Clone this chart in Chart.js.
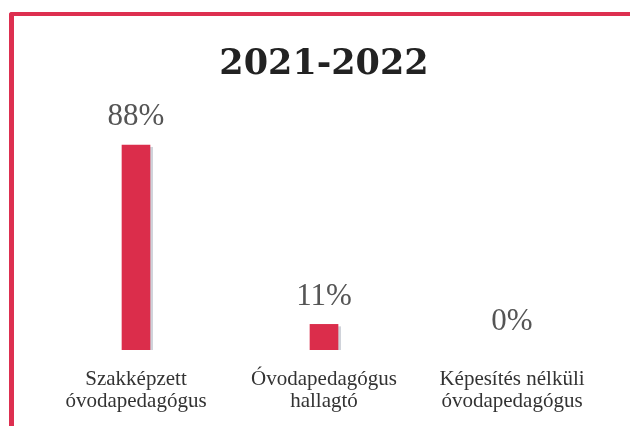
<!DOCTYPE html>
<html>
<head>
<meta charset="utf-8">
<script src="https://cdn.jsdelivr.net/npm/chart.js@4"></script>
<style>
  body { margin: 0; background: #fff; overflow: hidden; }
  #frame {
    position: absolute; left: 9px; top: 12px; width: 700px; height: 500px;
    border-top: 4px solid #dd2f50; border-left: 5px solid #dd2f50;
    border-top-left-radius: 3px;
  }
  #chart { position: absolute; left: 0; top: 0; }
</style>
</head>
<body>
<div id="frame"></div>
<canvas id="chart" width="630" height="426"></canvas>
<script>
// chart data
const categories = [
  ['Szakképzett', 'óvodapedagógus'],
  ['Óvodapedagógus', 'hallagtó'],
  ['Képesítés nélküli', 'óvodapedagógus']
];
const shares = [88, 11, 0];
const chartTitle = '2021-2022';

// soft grey shadow on the right side of the bars (skipped for empty bars)
const barShadow = {
  id: 'barShadow',
  beforeDatasetsDraw(chart) {
    const c = chart.ctx;
    const meta = chart.getDatasetMeta(0);
    c.save();
    c.fillStyle = 'rgba(120,130,150,0.35)';
    meta.data.forEach((bar, i) => {
      if (!shares[i]) return;
      const h = bar.base - bar.y;
      c.fillRect(bar.x - bar.width / 2 + 3, bar.y + 2, bar.width, h - 2);
    });
    c.restore();
  }
};

// value labels above the bars
const valueLabels = {
  id: 'valueLabels',
  afterDatasetsDraw(chart) {
    const c = chart.ctx;
    const meta = chart.getDatasetMeta(0);
    c.save();
    c.font = '31px "Liberation Serif"';
    c.fillStyle = '#555';
    c.textAlign = 'center';
    c.textBaseline = 'middle';
    meta.data.forEach((bar, i) => {
      c.fillText(shares[i] + '%', bar.x, bar.y - 28);
    });
    c.restore();
  }
};

new Chart(document.getElementById('chart'), {
  type: 'bar',
  data: {
    labels: categories,
    datasets: [{
      data: shares,
      // an empty bar should leave no trace at the baseline
      backgroundColor: ctx => ctx.raw ? '#db2d4b' : 'rgba(0,0,0,0)',
      barThickness: 28
    }]
  },
  options: {
    responsive: false,
    animation: false,
    devicePixelRatio: 1,
    layout: { padding: { left: 42, right: 24, top: 0, bottom: 14 } },
    plugins: {
      legend: { display: false },
      tooltip: { enabled: false },
      title: {
        display: true,
        text: chartTitle,
        color: '#222',
        font: { family: 'DejaVu Serif', size: 35, weight: 'bold', lineHeight: 1.2 },
        padding: { top: 44, bottom: 31 }
      }
    },
    scales: {
      x: {
        grid: { display: false, drawTicks: false },
        border: { display: false },
        afterFit(scale) { scale.height = 62; },
        ticks: {
          color: '#333',
          padding: 18,
          maxRotation: 0,
          font: { family: 'Liberation Serif', size: 21, lineHeight: 1.05 }
        }
      },
      y: { display: false, min: 0, max: 100 }
    }
  },
  plugins: [barShadow, valueLabels]
});
</script>
</body>
</html>
